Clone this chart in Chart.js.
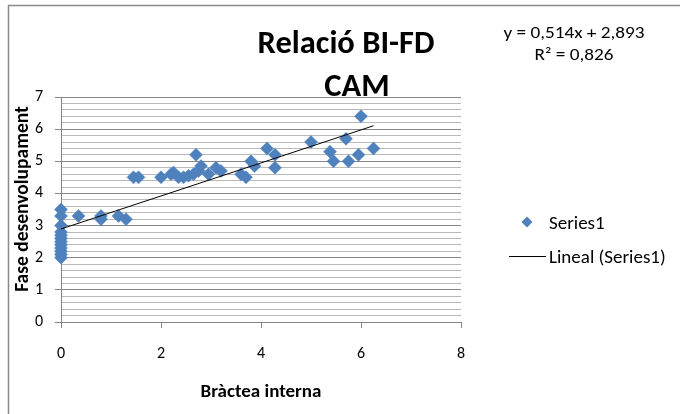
<!DOCTYPE html>
<html lang="ca">
<head>
  <meta charset="UTF-8">
  <title>Relació BI-FD CAM</title>
  <script src="https://cdn.jsdelivr.net/npm/chart.js"></script>
  <style>
    html, body { margin: 0; padding: 0; background: #fff; }
    #wrap { width: 680px; height: 414px; position: relative; }
  </style>
</head>
<body>
  <div id="wrap"><canvas id="grafic" width="680" height="414"></canvas></div>

  <script>
    // Dades llegides del gràfic
    const bracteaInterna = [
      0, 0, 0, 0, 0, 0, 0, 0, 0, 0, 0, 0,
      0.35, 0.8, 0.8, 1.15, 1.3,
      1.45, 1.55, 2.0, 2.2, 2.25, 2.35, 2.45, 2.55, 2.7, 2.65, 2.75, 2.8, 2.95, 3.1, 3.2,
      3.6, 3.7, 3.8, 3.87, 4.12, 4.28, 4.28,
      5.0, 5.38, 5.45, 5.7, 5.75, 5.95, 6.0, 6.25
    ];
    const faseDesenvolupament = [
      3.5, 3.3, 3.0, 2.8, 2.7, 2.6, 2.5, 2.4, 2.3, 2.2, 2.1, 2.0,
      3.3, 3.3, 3.2, 3.3, 3.2,
      4.5, 4.5, 4.5, 4.6, 4.65, 4.5, 4.5, 4.55, 5.2, 4.6, 4.7, 4.85, 4.6, 4.8, 4.7,
      4.6, 4.5, 5.0, 4.85, 5.4, 5.2, 4.8,
      5.6, 5.3, 5.0, 5.7, 5.0, 5.2, 6.4, 5.4
    ];
    // Línia de tendència (equació mostrada al gràfic)
    const pendent = 0.514;
    const ordenada = 2.893;
    const xTicks = [0, 2, 4, 6, 8];

    const titol = ['Relació BI-FD', 'CAM'];
    const equacio = ['y = 0,514x + 2,893', 'R² = 0,826'];
    const nomSerie = 'Series1';
    const nomTendencia = 'Lineal (Series1)';

    const punts = bracteaInterna.map((x, i) => ({ x: x, y: faseDesenvolupament[i] }));
    const xMax = Math.max(...bracteaInterna);
    const tendencia = [0, xMax].map(x => ({ x: x, y: pendent * x + ordenada }));

    const blau = '#4f81bd';
    const gris = '#868686';
    const grisClar = '#b9b9b9';
    const lletra = 'Calibri, Carlito, Lato, sans-serif';

    const esSencer = v => Math.abs(v - Math.round(v)) < 1e-6;

    // text amb escala (l'equació de l'original surt una mica estirada)
    function text(ctx, s, x, y, font, sx, sy, align) {
      ctx.save();
      ctx.translate(x, y);
      ctx.scale(sx, sy);
      ctx.font = font;
      ctx.textAlign = align || 'center';
      ctx.fillText(s, 0, 0);
      ctx.restore();
    }

    // Textos fora dels eixos: títol, equació, llegenda i vora
    const textos = {
      id: 'textos',
      afterDraw(chart) {
        const ctx = chart.ctx;
        ctx.save();
        ctx.strokeStyle = '#8a8a8a';
        ctx.lineWidth = 1.5;
        ctx.beginPath();
        ctx.moveTo(8.5, 414);
        ctx.lineTo(8.5, 5.5);
        ctx.lineTo(680, 5.5);
        ctx.stroke();

        ctx.fillStyle = '#000';
        ctx.textBaseline = 'alphabetic';
        text(ctx, titol[0], 346, 53, 'bold 32.5px ' + lletra, 1, 1);
        text(ctx, titol[1], 357, 96, 'bold 32.5px ' + lletra, 1, 1);

        text(ctx, equacio[0], 574, 38, '15.5px ' + lletra, 1.24, 1);
        text(ctx, equacio[1], 574, 60, '15.5px ' + lletra, 1.24, 1);

        // títols dels eixos
        text(ctx, 'Bràctea interna', 261, 397, 'bold 19px ' + lletra, 1, 1);
        ctx.save();
        ctx.translate(28, 199);
        ctx.rotate(-Math.PI / 2);
        text(ctx, 'Fase desenvolupament', 0, 0, 'bold 19.5px ' + lletra, 1, 1);
        ctx.restore();

        // llegenda
        ctx.fillStyle = blau;
        ctx.beginPath();
        ctx.moveTo(527, 216.5);
        ctx.lineTo(532.5, 222);
        ctx.lineTo(527, 227.5);
        ctx.lineTo(521.5, 222);
        ctx.closePath();
        ctx.fill();
        ctx.strokeStyle = '#000';
        ctx.lineWidth = 1;
        ctx.beginPath();
        ctx.moveTo(509, 256.5);
        ctx.lineTo(546, 256.5);
        ctx.stroke();
        ctx.fillStyle = '#000';
        text(ctx, nomSerie, 549, 228.5, '19px ' + lletra, 1, 1, 'left');
        text(ctx, nomTendencia, 549, 263, '19px ' + lletra, 1, 1, 'left');
        ctx.restore();
      }
    };

    new Chart(document.getElementById('grafic').getContext('2d'), {
      type: 'scatter',
      data: {
        datasets: [
          {
            label: nomSerie,
            data: punts,
            pointStyle: 'rectRot',
            pointRadius: 6.5,
            pointBackgroundColor: blau,
            pointBorderColor: blau,
            pointBorderWidth: 0.5,
            clip: false,
            order: 2
          },
          {
            label: nomTendencia,
            type: 'line',
            data: tendencia,
            borderColor: '#000',
            borderWidth: 1,
            pointRadius: 0,
            fill: false,
            order: 1
          }
        ]
      },
      options: {
        responsive: false,
        animation: false,
        layout: { padding: { left: 9, top: 97, right: 219, bottom: 0 } },
        plugins: {
          legend: { display: false },
          title: { display: false },
          tooltip: { enabled: false }
        },
        scales: {
          x: {
            type: 'linear',
            min: 0,
            max: 8,
            afterBuildTicks: s => { s.ticks = xTicks.map(v => ({ value: v })); },
            afterFit: s => { s.height = 92; },
            ticks: { color: '#000', font: { family: lletra, size: 16 }, padding: 16 },
            grid: { drawOnChartArea: false, tickLength: 6, color: gris },
            border: { color: gris }
          },
          y: {
            min: 0,
            max: 7,
            afterFit: s => { s.width = 52; },
            ticks: {
              stepSize: 0.2,
              autoSkip: false,
              maxTicksLimit: 100,
              color: '#000',
              font: { family: lletra, size: 16 },
              padding: 12,
              callback: v => esSencer(v) ? Math.round(v) : ''
            },
            grid: {
              tickLength: 6,
              color: c => esSencer(c.tick.value) ? gris : grisClar,
              tickColor: c => esSencer(c.tick.value) ? gris : 'rgba(0,0,0,0)'
            },
            border: { color: gris }
          }
        }
      },
      plugins: [textos]
    });
  </script>
</body>
</html>
